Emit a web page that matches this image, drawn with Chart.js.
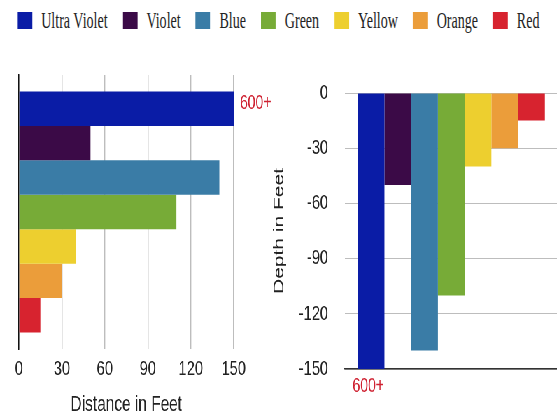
<!DOCTYPE html>
<html><head><meta charset="utf-8">
<script src="https://cdn.jsdelivr.net/npm/chart.js@4.4.1/dist/chart.umd.min.js"></script>
<style>
html,body{margin:0;padding:0;width:557px;height:415px;overflow:hidden;background:#fff;}
#stage{position:absolute;left:0;top:0;width:796px;height:415px;transform:scaleX(0.6997);transform-origin:0 0;}
#left{position:absolute;left:0;top:0;}
#right{position:absolute;left:360px;top:0;}
#legend{position:absolute;left:0;top:8px;width:898px;height:25px;transform:scaleX(0.62);transform-origin:0 0;display:flex;justify-content:center;align-items:center;font-family:"Liberation Serif";font-size:22.7px;color:#222;white-space:nowrap;}
.item{display:flex;align-items:center;margin:0 12px;}
.box{width:24px;height:17px;margin-right:14.5px;}
</style></head>
<body>
<div id="legend"></div>
<div id="stage"><canvas id="left" width="420" height="418"></canvas><canvas id="right" width="437" height="415"></canvas></div>
<script>
const seriesNames = ['Ultra Violet','Violet','Blue','Green','Yellow','Orange','Red'];
const seriesColors = ['#0a1ca6','#3b0a47','#3a7ca6','#77ab37','#edcf2f','#eb9d3a','#d7232f'];
const distanceFeet = [150,50,140,110,40,30,15];
const depthFeet = [-150,-50,-140,-110,-40,-30,-15];
const distanceTicks = [0,30,60,90,120,150];
const depthTicks = [0,-30,-60,-90,-120,-150];
const overflowLabel = '600+';

// HTML legend built from the series
const legendEl = document.getElementById('legend');
seriesNames.forEach((n,i)=>{
  const it=document.createElement('div'); it.className='item';
  const b=document.createElement('div'); b.className='box'; b.style.background=seriesColors[i];
  const t=document.createElement('span'); t.textContent=n;
  it.appendChild(b); it.appendChild(t); legendEl.appendChild(it);
});

const tickFont = {family:'Liberation Sans', size:21};
const overflowLabelPlugin = {
  id:'overflowLabel',
  afterDatasetsDraw(chart, args, opts){
    const bar = chart.getDatasetMeta(0).data[0];
    const ctx = chart.ctx; ctx.save();
    ctx.fillStyle = '#cf2232'; ctx.font = '20px "Liberation Sans"';
    ctx.textBaseline='middle';
    if (opts.mode==='end') { ctx.textAlign='left'; ctx.fillText(overflowLabel, bar.x+9, bar.y-5); }
    else { ctx.textAlign='center'; ctx.fillText(overflowLabel, bar.x-4, chart.chartArea.bottom+17); }
    ctx.restore();
  }
};

function makeDatasets(values){
  return seriesNames.map((n,i)=>({label:n, data:[values[i]], backgroundColor:seriesColors[i], borderWidth:0, categoryPercentage:0.88, barPercentage:1}));
}

new Chart(document.getElementById('left'), {
  type:'bar',
  data:{labels:[''], datasets:makeDatasets(distanceFeet)},
  options:{
    indexAxis:'y', responsive:false, animation:false,
    layout:{padding:{left:27,right:86,top:75,bottom:0}},
    plugins:{legend:{display:false}, tooltip:{enabled:false}, overflowLabel:{mode:'end'}},
    scales:{
      x:{type:'linear', min:Math.min(...distanceTicks), max:Math.max(...distanceTicks),
         ticks:{stepSize:distanceTicks[1]-distanceTicks[0], padding:8, font:tickFont, color:'#222'},
         grid:{color:'#bdbdbd', lineWidth:1.4, drawTicks:false}, border:{display:false},
         title:{display:true, text:'Distance in Feet', font:{family:'Liberation Sans', size:22}, color:'#222', padding:0},
         afterFit(s){ s.height=69; }},
      y:{ticks:{display:false}, grid:{display:false, drawTicks:false}, border:{display:true, color:'#111', width:1.5},
         afterFit(s){ s.width=0; }}
    }
  },
  plugins:[overflowLabelPlugin]
});

new Chart(document.getElementById('right'), {
  type:'bar',
  data:{labels:[''], datasets:makeDatasets(depthFeet)},
  options:{
    responsive:false, animation:false,
    layout:{padding:{left:0,right:0,top:93,bottom:0}},
    plugins:{legend:{display:false}, tooltip:{enabled:false}, overflowLabel:{mode:'below'}},
    scales:{
      x:{ticks:{display:false}, grid:{display:false, drawTicks:false}, border:{display:true, color:'#333', width:1.5},
         afterFit(s){ s.height=46; }},
      y:{type:'linear', min:Math.min(...depthTicks), max:Math.max(...depthTicks),
         ticks:{stepSize:Math.abs(depthTicks[1]-depthTicks[0]), padding:24, font:tickFont, color:'#222'},
         grid:{color:'#bdbdbd', lineWidth:1, drawTicks:false}, border:{display:false},
         title:{display:true, text:'Depth in Feet', font:{family:'Liberation Sans', size:21}, color:'#222', padding:{top:27,bottom:0}},
         afterFit(s){ s.width=133; }}
    }
  },
  plugins:[overflowLabelPlugin]
});
</script>
</body></html>
